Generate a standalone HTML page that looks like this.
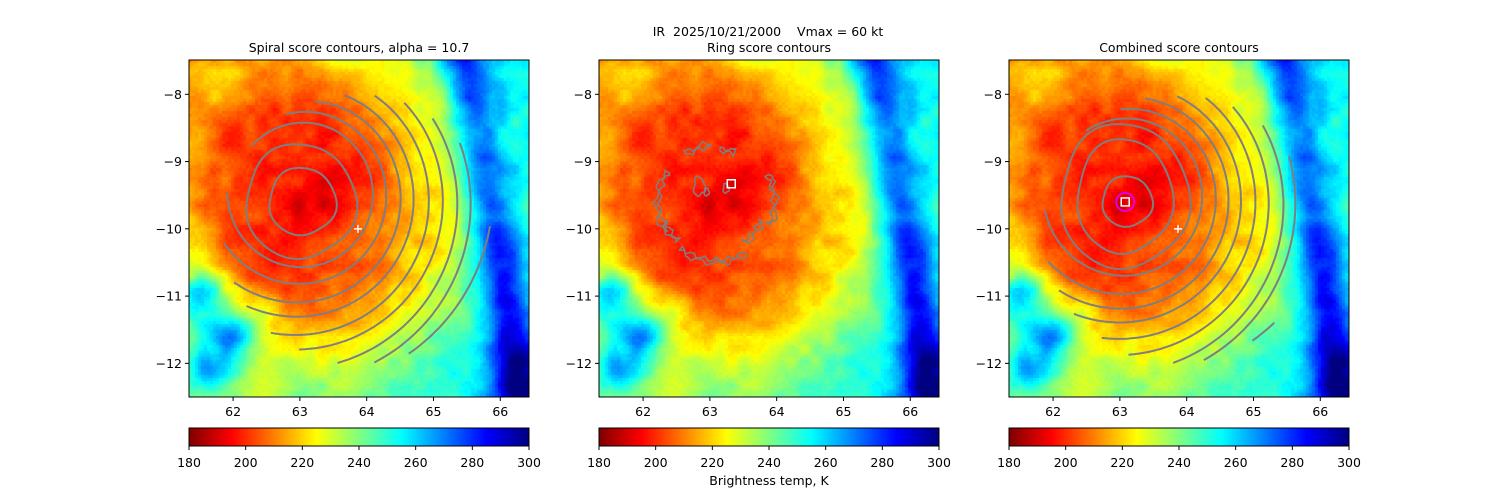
<!DOCTYPE html>
<html>
<head>
<meta charset="utf-8">
<style>
html,body{margin:0;padding:0;background:#fff;}
#root{position:relative;width:1500px;height:500px;overflow:hidden;background:#fff;font-family:"DejaVu Sans","Liberation Sans",sans-serif;}
canvas{position:absolute;}
svg{position:absolute;left:0;top:0;}
svg text{font-family:"DejaVu Sans","Liberation Sans",sans-serif;font-size:12.5px;fill:#000;white-space:pre;}
</style>
</head>
<body>
<div id="root">
<canvas id="img1" width="340" height="337" style="left:189px;top:60px"></canvas>
<canvas id="img2" width="340" height="337" style="left:599px;top:60px"></canvas>
<canvas id="img3" width="340" height="337" style="left:1009px;top:60px"></canvas>
<canvas id="cb1" width="340" height="18" style="left:189px;top:428px"></canvas>
<canvas id="cb2" width="340" height="18" style="left:599px;top:428px"></canvas>
<canvas id="cb3" width="340" height="18" style="left:1009px;top:428px"></canvas>
<svg id="ov" width="1500" height="500">
<text x="768" y="36" text-anchor="middle" xml:space="preserve">IR  2025/10/21/2000    Vmax = 60 kt</text>
<text x="359" y="52" text-anchor="middle">Spiral score contours, alpha = 10.7</text>
<text x="769" y="52" text-anchor="middle">Ring score contours</text>
<text x="1179" y="52" text-anchor="middle">Combined score contours</text>
<text x="769" y="485" text-anchor="middle">Brightness temp, K</text>
</svg>
</div>
<script>
// ---- data arrays ----
const xTicks=[62,63,64,65,66];
const yTicks=[-8,-9,-10,-11,-12];
const cbTicks=[180,200,220,240,260,280,300];
const lonMin=61.34, lonMax=66.43, latMax=-7.49, latMin=-12.5;
const tMin=180, tMax=300;

// spiral panel contours
const p1ClosedLon=[63.037,63.01];
const p1ClosedLat=[-9.595,-9.595];
const p1ClosedRx=[0.5,0.825];
const p1ClosedRy=[0.5,0.85];
const p1ArcCenter=[63.04,-9.47];
const p1ArcR0=[1.035,1.2,1.38,1.59,1.82,2.055,2.275,2.515,2.905];
const p1ArcR1=[1.125,1.39,1.675,1.875,2.13,2.325,2.58,2.745,2.885];
const p1ArcA0=[-138,-102,-82,-66.8,-53.3,-41.4,-29.7,-17.6,9.9];
const p1ArcA1=[180.5,147.8,127.7,116.6,102.9,91.2,78.3,66.9,56.3];
const p1Plus=[63.87,-10.0];

// combined panel contours
const p3ClosedLon=[63.11,63.07,63.07];
const p3ClosedLat=[-9.595,-9.52,-9.52];
const p3ClosedRx=[0.375,0.715,0.96];
const p3ClosedRy=[0.375,0.85,1.075];
const p3ArcCenter=[63.087,-9.496];
const p3ArcR0=[1.125,1.275,1.465,1.665,1.89,2.095,2.335,2.56,2.96];
const p3ArcR1=[1.23,1.525,1.735,1.93,2.155,2.375,2.6,2.73,2.905];
const p3ArcA0=[-122,-93.4,-78.6,-62.3,-50.2,-39.2,-26.7,-13.2,40.5];
const p3ArcA1=[169.5,139.5,125.2,113.7,99.6,89,74.1,64.5,48.8];
const p3Center=[63.08,-9.6];
const p3Plus=[63.87,-10.0];

// ring panel contours
const p2RingCenter=[63.096,-9.61];
const p2SegA0=[-122,-86,-210,-28,22,60,136];
const p2SegA1=[-95,-70,-148,22,55,128,160];
const p2SegR=[0.88,0.82,0.9,0.9,0.75,0.9,0.85];
const p2BlobLon=[62.84,63.24,62.95];
const p2BlobLat=[-9.37,-9.4,-9.45];
const p2BlobR=[0.14,0.07,0.06];
const p2Square=[63.32,-9.33];

const panelLeft=[189,599,1009];
const PT=60, PW=340, PH=337;
const NS='http://www.w3.org/2000/svg';
const ov=document.getElementById('ov');

function xs(L,lon){return L+(lon-lonMin)/(lonMax-lonMin)*PW;}
function ys(lat){return PT+(latMax-lat)/(latMax-latMin)*PH;}

function jet(x){
  const c=v=>Math.max(0,Math.min(1,v));
  return [c(1.5-Math.abs(4*x-3)),c(1.5-Math.abs(4*x-2)),c(1.5-Math.abs(4*x-1))];
}
function cmap(T){const t=Math.max(0,Math.min(1,(T-tMin)/(tMax-tMin)));return jet(1-t);}

// background IR field (image texture)
function hash(i,j){let h=(i*374761393+j*668265263)|0;h=(h^(h>>>13))*1274126177|0;h^=h>>>16;return (h>>>0)/4294967295;}
function vnoise(x,y){const i=Math.floor(x),j=Math.floor(y),fx=x-i,fy=y-j;
  const a=hash(i,j),b=hash(i+1,j),c=hash(i,j+1),d=hash(i+1,j+1);
  const sx=fx*fx*(3-2*fx),sy=fy*fy*(3-2*fy);
  return a+(b-a)*sx+(c-a)*sy+(a-b-c+d)*sx*sy;}
function g2(u,v,cu,cv,s){const d=((u-cu)*(u-cu)+(v-cv)*(v-cv))/(s*s);return Math.exp(-d);}
function field(u,v,i,j){
  let dx=u-0.33, dy=v-0.42;
  if(dx<0) dx*=0.9;
  if(dy<0) dy*=0.85; else dy*=0.95;
  const r=Math.hypot(dx,dy);
  let T=r<0.25?194+44*r:205+120*(r-0.25);
  T=Math.min(T,216+60*Math.max(0,u-0.3)+45*Math.max(0,v-0.55));
  T=Math.min(T,252);
  const xb=0.81+0.17*v;
  const bd=(u-xb)/0.07;
  T+=32*Math.exp(-bd*bd);
  if(u>xb) T=Math.max(T,250+6*Math.exp(-bd*bd*0.3));
  T+=30*g2(u,v,0.04,0.68,0.07)+28*g2(u,v,0.13,0.82,0.06)+22*g2(u,v,0.06,0.92,0.06)+18*g2(u,v,0.06,0.8,0.16);
  T+=22*g2(u,v,1.0,1.0,0.16)+8*g2(u,v,0.0,0.47,0.08);
  T+=(vnoise(i/4,j/4)-0.5)*9+(hash(i,j)-0.5)*3+(vnoise(i/12+7,j/12+3)-0.5)*9;
  return T;
}
(function(){
  const c=document.getElementById('img1'),ctx=c.getContext('2d');
  const cs=3;
  for(let j=0;j*cs<PH;j++)for(let i=0;i*cs<PW;i++){
    const u=(i*cs+1.5)/PW,v=(j*cs+1.5)/PH;
    const col=cmap(field(u,v,i,j));
    ctx.fillStyle='rgb('+Math.round(col[0]*255)+','+Math.round(col[1]*255)+','+Math.round(col[2]*255)+')';
    ctx.fillRect(i*cs,j*cs,cs,cs);
  }
  ['img2','img3'].forEach(id=>document.getElementById(id).getContext('2d').drawImage(c,0,0));
  ['cb1','cb2','cb3'].forEach(id=>{
    const k=document.getElementById(id).getContext('2d');
    for(let x=0;x<340;x++){const col=cmap(tMin+(x+0.5)/340*(tMax-tMin));
      k.fillStyle='rgb('+Math.round(col[0]*255)+','+Math.round(col[1]*255)+','+Math.round(col[2]*255)+')';k.fillRect(x,0,1,18);}
  });
})();

function mk(tag,attrs){const e=document.createElementNS(NS,tag);for(const k in attrs)e.setAttribute(k,attrs[k]);ov.appendChild(e);return e;}

function ellipsePath(L,lon,lat,rx,ry,wob){
  let d='';
  for(let a=0;a<=360;a+=4){const t=a*Math.PI/180;const w=1+wob*Math.sin(3*t+1)+wob*0.6*Math.sin(5*t);
    const x=xs(L,lon+rx*w*Math.cos(t)),y=ys(lat-ry*w*Math.sin(t));d+=(a?'L':'M')+x.toFixed(1)+' '+y.toFixed(1);}
  return d+'Z';
}
function arcPath(L,c,r0,r1,a0,a1){
  let d='';const n=Math.ceil((a1-a0)/2);
  for(let k=0;k<=n;k++){const a=a0+(a1-a0)*k/n;const t=a*Math.PI/180;
    let r=r0+(r1-r0)*k/n;const cc=Math.max(0,Math.cos(t));r*=1-0.02*cc*cc;
    const x=xs(L,c[0]+r*Math.cos(t)),y=ys(c[1]-r*Math.sin(t));d+=(k?'L':'M')+x.toFixed(1)+' '+y.toFixed(1);}
  return d;
}

function drawAxes(L,idx){
  const frame=mk('rect',{x:L,y:PT,width:PW,height:PH,fill:'none',stroke:'#000','stroke-width':1});
  
  
  xTicks.forEach(v=>{
    const x=xs(L,v);
    const t=mk('line',{x1:x,x2:x,y1:PT+PH,y2:PT+PH+4,stroke:'#000'});
    
    
    const tx=mk('text',{x:x,y:PT+PH+19,'text-anchor':'middle'});tx.textContent=String(v);
    
    
  });
  yTicks.forEach(v=>{
    const y=ys(v);
    const t=mk('line',{x1:L-4,x2:L,y1:y,y2:y,stroke:'#000'});
    
    
    const tx=mk('text',{x:L-7,y:y+4.5,'text-anchor':'end'});tx.textContent=String(v).replace('-','\u2212');
    
    
  });
  const cb=mk('rect',{x:L,y:428,width:PW,height:18,fill:'none',stroke:'#000','stroke-width':1});
  
  
  cbTicks.forEach(v=>{
    const x=L+(v-tMin)/(tMax-tMin)*PW;
    const t=mk('line',{x1:x,x2:x,y1:446,y2:450,stroke:'#000'});
    
    
    const tx=mk('text',{x:x,y:467,'text-anchor':'middle'});tx.textContent=String(v);
    
    
  });
}
function plus(L,p){
  const x=xs(L,p[0]),y=ys(p[1]);
  const e=mk('path',{d:'M'+(x-4)+' '+y+'H'+(x+4)+'M'+x+' '+(y-4)+'V'+(y+4),stroke:'#fff','stroke-width':1.5,fill:'none'});
  
  
}
function square(L,p,s){
  const x=xs(L,p[0]),y=ys(p[1]);
  const e=mk('rect',{x:x-s/2,y:y-s/2,width:s,height:s,fill:'none',stroke:'#fff','stroke-width':1.5});
  
  
}
const CC='#7f7f7f';

// panel 1
(function(){const L=panelLeft[0];
  p1ClosedLon.forEach((lon,i)=>{const e=mk('path',{d:ellipsePath(L,lon,p1ClosedLat[i],p1ClosedRx[i],p1ClosedRy[i],0.03),fill:'none',stroke:CC,'stroke-width':2});
    
    });
  p1ArcR0.forEach((r,i)=>{const e=mk('path',{d:arcPath(L,p1ArcCenter,r,p1ArcR1[i],p1ArcA0[i],p1ArcA1[i]),fill:'none',stroke:CC,'stroke-width':2});
    
    });
  plus(L,p1Plus);
})();
// panel 2
(function(){const L=panelLeft[1];
  p2SegR.forEach((r,i)=>{
    let d='';const a0=p2SegA0[i],a1=p2SegA1[i];const n=Math.ceil((a1-a0)/2);
    const pts=[];
    for(let k=0;k<=n;k++){const a=a0+(a1-a0)*k/n,t=a*Math.PI/180;const rr=r+0.035*Math.sin(a*0.35+i)+0.015*Math.sin(a*0.9);pts.push([t,rr]);}
    for(let k=n;k>=0;k--){const a=a0+(a1-a0)*k/n,t=a*Math.PI/180;const rr=r-0.05+0.03*Math.sin(a*0.5+2*i)+0.012*Math.sin(a*1.1);pts.push([t,rr]);}
    pts.forEach((p,k)=>{d+=(k?'L':'M')+xs(L,p2RingCenter[0]+p[1]*Math.cos(p[0])).toFixed(1)+' '+ys(p2RingCenter[1]-p[1]*Math.sin(p[0])).toFixed(1);});
    const e=mk('path',{d:d+'Z',fill:'none',stroke:CC,'stroke-width':1.5});
    
    
  });
  p2BlobLon.forEach((lon,i)=>{const e=mk('path',{d:ellipsePath(L,lon,p2BlobLat[i],p2BlobR[i]*0.6,p2BlobR[i],0.15),fill:'none',stroke:CC,'stroke-width':1.5});
    
    });
  square(L,p2Square,8);
})();
// panel 3
(function(){const L=panelLeft[2];
  p3ClosedLon.forEach((lon,i)=>{const e=mk('path',{d:ellipsePath(L,lon,p3ClosedLat[i],p3ClosedRx[i],p3ClosedRy[i],0.03),fill:'none',stroke:CC,'stroke-width':2});
    
    });
  p3ArcR0.forEach((r,i)=>{const e=mk('path',{d:arcPath(L,p3ArcCenter,r,p3ArcR1[i],p3ArcA0[i],p3ArcA1[i]),fill:'none',stroke:CC,'stroke-width':2});
    
    });
  const c=mk('circle',{cx:xs(L,p3Center[0]),cy:ys(p3Center[1]),r:9,fill:'none',stroke:'#e000e0','stroke-width':2});
  
  
  square(L,p3Center,8);
  plus(L,p3Plus);
})();
panelLeft.forEach((L,i)=>drawAxes(L,i+1));
</script>
</body>
</html>
